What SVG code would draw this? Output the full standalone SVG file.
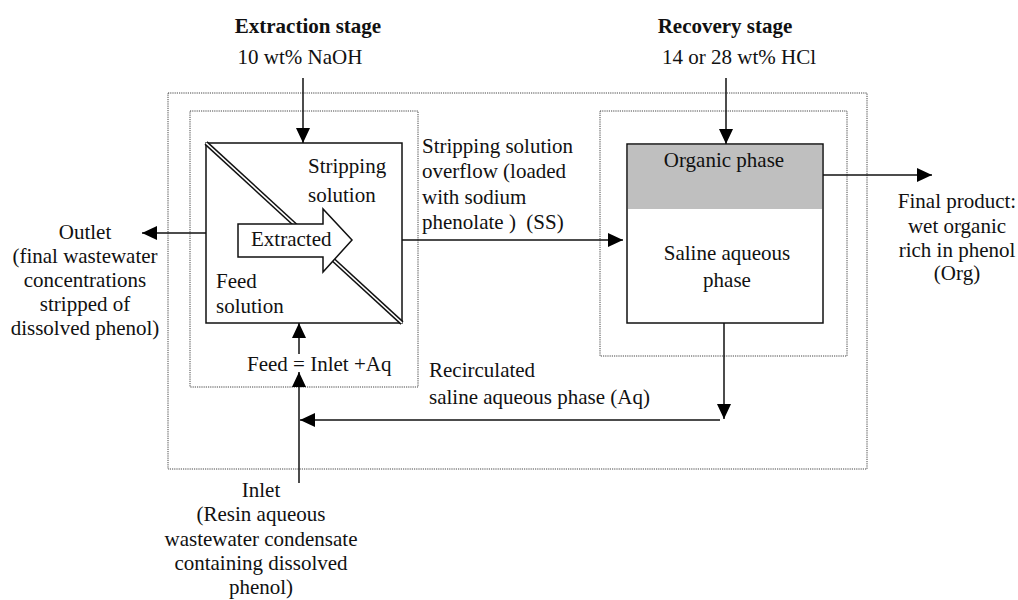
<svg xmlns="http://www.w3.org/2000/svg" width="1018" height="600" viewBox="0 0 1018 600">
<defs>
<style>
text{font-family:"Liberation Serif","Times New Roman",serif;font-size:21px;fill:#111;}
.b{font-weight:bold;}
.m{text-anchor:middle;}
.dot{fill:none;stroke:#444;stroke-width:1;stroke-dasharray:1.2 1;}
.box{fill:#fff;stroke:#111;stroke-width:1.5;}
.ln{fill:none;stroke:#111;stroke-width:1.5;}
</style>
<marker id="ah" markerUnits="userSpaceOnUse" markerWidth="16" markerHeight="14" refX="15" refY="7" orient="auto">
<path d="M0,0 L15,7 L0,14 Z" fill="#000"/>
</marker>
</defs>
<rect width="1018" height="600" fill="#fff"/>

<g id="frames">
<rect class="dot" x="168" y="93" width="699" height="376"/>
<rect class="dot" x="190" y="111" width="228" height="276"/>
<rect class="dot" x="600" y="111" width="247" height="245"/>
</g>

<g id="headers">
<text class="b m" x="308" y="33">Extraction stage</text>
<text class="m" x="300" y="64">10 wt% NaOH</text>
<text class="b m" x="725" y="33">Recovery stage</text>
<text class="m" x="739" y="64">14 or 28 wt% HCl</text>
</g>

<g id="extractor">
<rect class="box" x="206" y="143" width="196" height="180"/>
<line x1="206" y1="143" x2="402" y2="323" stroke="#111" stroke-width="4.5"/>
<line x1="206" y1="143" x2="402" y2="323" stroke="#fff" stroke-width="1.6"/>
<text x="308" y="173">Stripping</text>
<text x="308" y="202">solution</text>
<text x="216" y="288">Feed</text>
<text x="216" y="313">solution</text>
</g>

<g id="extracted-arrow">
<path d="M238,224 L323,224 L323,209 L352,240 L323,272 L323,257 L238,257 Z" fill="#fff" stroke="#111" stroke-width="1.5" stroke-linejoin="miter"/>
<text x="251" y="246">Extracted</text>
</g>

<g id="recovery">
<rect class="box" x="627" y="144" width="196" height="179"/>
<rect x="628" y="145" width="194" height="64" fill="#bfbfbf"/>
<text class="m" x="724" y="167">Organic phase</text>
<text class="m" x="727" y="260">Saline aqueous</text>
<text class="m" x="727" y="287">phase</text>
</g>

<g id="connectors">
<line class="ln" x1="303" y1="78" x2="303" y2="143" marker-end="url(#ah)"/>
<line class="ln" x1="726" y1="78" x2="726" y2="144" marker-end="url(#ah)"/>
<line class="ln" x1="206" y1="233" x2="142" y2="233" marker-end="url(#ah)"/>
<line class="ln" x1="402" y1="240" x2="623" y2="240" marker-end="url(#ah)"/>
<line class="ln" x1="823" y1="175" x2="932" y2="175" marker-end="url(#ah)"/>
<line class="ln" x1="724" y1="323" x2="724" y2="419" marker-end="url(#ah)"/>
<line class="ln" x1="720" y1="420" x2="300" y2="420" marker-end="url(#ah)"/>
<line class="ln" x1="299" y1="483" x2="299" y2="372" marker-end="url(#ah)"/>
<line class="ln" x1="299" y1="354" x2="299" y2="323" marker-end="url(#ah)"/>
</g>

<g id="labels">
<text x="247" y="371">Feed = Inlet +Aq</text>
<text x="422" y="153">Stripping solution</text>
<text x="422" y="178">overflow (loaded</text>
<text x="422" y="204">with sodium</text>
<text x="422" y="229" xml:space="preserve">phenolate )  (SS)</text>
<text x="429" y="377">Recirculated</text>
<text x="429" y="404">saline aqueous phase (Aq)</text>
</g>

<g id="outlet">
<text class="m" x="85" y="239">Outlet</text>
<text class="m" x="85" y="263">(final wastewater</text>
<text class="m" x="85" y="287">concentrations</text>
<text class="m" x="85" y="311">stripped of</text>
<text class="m" x="85" y="335">dissolved phenol)</text>
</g>

<g id="final-product">
<text class="m" x="957" y="208">Final product:</text>
<text class="m" x="957" y="233">wet organic</text>
<text class="m" x="957" y="257">rich in phenol</text>
<text class="m" x="957" y="280">(Org)</text>
</g>

<g id="inlet">
<text class="m" x="261" y="497">Inlet</text>
<text class="m" x="261" y="521">(Resin aqueous</text>
<text class="m" x="261" y="546">wastewater condensate</text>
<text class="m" x="261" y="570">containing dissolved</text>
<text class="m" x="261" y="594">phenol)</text>
</g>
</svg>
